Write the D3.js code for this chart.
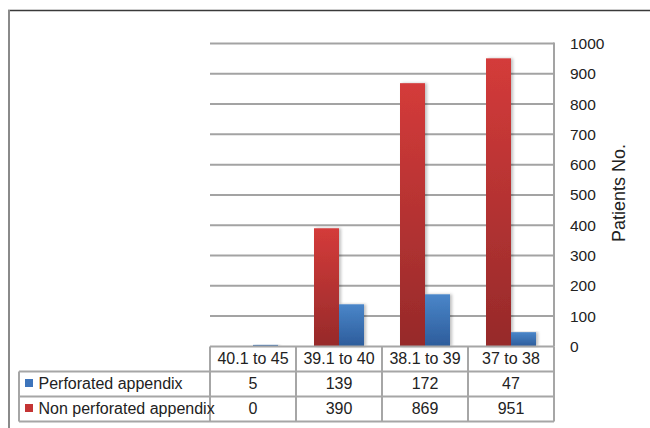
<!DOCTYPE html>
<html>
<head>
<meta charset="utf-8">
<script src="https://cdn.jsdelivr.net/npm/d3@7"></script>
<style>
  body { margin: 0; background: #fff; }
  svg { display: block; font-family: "Liberation Sans", Arial, sans-serif; }
</style>
</head>
<body>
<svg id="chart" width="650" height="428"></svg>
<script>
const categories = ["40.1 to 45", "39.1 to 40", "38.1 to 39", "37 to 38"];
const perforated = [5, 139, 172, 47];
const nonPerforated = [0, 390, 869, 951];
const yTicks = [0, 100, 200, 300, 400, 500, 600, 700, 800, 900, 1000];
const seriesNames = ["Perforated appendix", "Non perforated appendix"];

const svg = d3.select("#chart");
const plotLeft = 210, plotRight = 554, plotTop = 43.5, plotBase = 346.4;
const legendLeft = 19;
const rows = [346.5, 371.5, 396.5, 421.5];
const ink = "#222";

const x = d3.scaleBand().domain(categories).range([plotLeft, plotRight]).padding(0);
const inner = d3.scaleBand().domain(["non", "perf"]).range([0, x.bandwidth()]).paddingInner(0).paddingOuter(0.72);
const y = d3.scaleLinear().domain([0, 1000]).range([plotBase, plotTop]);

const defs = svg.append("defs");
function grad(id, c1, c2) {
  const g = defs.append("linearGradient").attr("id", id).attr("x1", 0).attr("y1", 0).attr("x2", 0).attr("y2", 1);
  g.append("stop").attr("offset", "0%").attr("stop-color", c1);
  g.append("stop").attr("offset", "100%").attr("stop-color", c2);
}
grad("gRed", "#d43b3a", "#962a2a");
grad("gBlue", "#4a86c9", "#2d5c9b");
const shadow = defs.append("filter").attr("id", "shadow").attr("x", "-20%").attr("y", "-5%").attr("width", "150%").attr("height", "110%");
shadow.append("feDropShadow").attr("dx", 2).attr("dy", 0).attr("stdDeviation", 1.5).attr("flood-color", "#000").attr("flood-opacity", 0.25);

// outer frame
svg.append("line").attr("x1", 8).attr("x2", 650).attr("y1", 10.5).attr("y2", 10.5).attr("stroke", "#3a3a3a").attr("stroke-width", 1.5);
svg.append("line").attr("x1", 9).attr("x2", 9).attr("y1", 10).attr("y2", 428).attr("stroke", "#8a8a8a").attr("stroke-width", 2);

// gridlines
svg.append("g").selectAll("line").data(yTicks.slice(1)).join("line")
  .attr("x1", plotLeft).attr("x2", plotRight)
  .attr("y1", (d) => y(d)).attr("y2", (d) => y(d))
  .attr("stroke", "#a3a3a3").attr("stroke-width", 2);

// right axis line
svg.append("line").attr("x1", plotRight).attr("x2", plotRight).attr("y1", y(1000) - 1).attr("y2", plotBase)
  .attr("stroke", "#a3a3a3").attr("stroke-width", 2);

// bars
const bars = svg.append("g");
categories.forEach((c, i) => {
  bars.append("rect")
    .attr("x", x(c) + inner("non")).attr("width", inner.bandwidth())
    .attr("y", y(nonPerforated[i])).attr("height", plotBase - y(nonPerforated[i]))
    .attr("fill", "url(#gRed)").attr("filter", "url(#shadow)");
  bars.append("rect")
    .attr("x", x(c) + inner("perf")).attr("width", inner.bandwidth())
    .attr("y", y(perforated[i])).attr("height", plotBase - y(perforated[i]))
    .attr("fill", "url(#gBlue)").attr("filter", "url(#shadow)");
});

// y axis labels
svg.append("g").selectAll("text").data(yTicks).join("text")
  .attr("x", 570).attr("y", (d) => y(d) + 5.5)
  .attr("font-size", 15.5).attr("fill", ink)
  .text((d) => d);

svg.append("text")
  .attr("transform", `translate(625,${(plotTop + plotBase) / 2 - 2}) rotate(-90)`)
  .attr("text-anchor", "middle").attr("font-size", 18).attr("fill", ink)
  .text("Patients No.");

// data table
const tbl = svg.append("g").attr("stroke", "#a6a6a6").attr("stroke-width", 2);
tbl.append("line").attr("x1", plotLeft).attr("x2", plotRight).attr("y1", rows[0]).attr("y2", rows[0]);
[rows[1], rows[2], rows[3]].forEach((ry) => {
  tbl.append("line").attr("x1", legendLeft).attr("x2", plotRight).attr("y1", ry).attr("y2", ry);
});
tbl.append("line").attr("x1", legendLeft).attr("x2", legendLeft).attr("y1", rows[1]).attr("y2", rows[3]);
categories.forEach((c) => {
  tbl.append("line").attr("x1", x(c)).attr("x2", x(c)).attr("y1", rows[0]).attr("y2", rows[3]);
});
tbl.append("line").attr("x1", plotRight).attr("x2", plotRight).attr("y1", rows[0]).attr("y2", rows[3]);

const txt = svg.append("g").attr("font-size", 16).attr("fill", ink).attr("text-anchor", "middle");
categories.forEach((c, i) => {
  const cx = x(c) + x.bandwidth() / 2;
  txt.append("text").attr("x", cx).attr("y", rows[0] + 17.5).text(c);
  txt.append("text").attr("x", cx).attr("y", rows[1] + 17.5).text(perforated[i]);
  txt.append("text").attr("x", cx).attr("y", rows[2] + 17.5).text(nonPerforated[i]);
});

const swatchFill = ["#3d74bb", "#c43434"];
seriesNames.forEach((name, i) => {
  const ry = rows[i + 1];
  svg.append("rect").attr("x", 25).attr("y", ry + 7.5).attr("width", 8).attr("height", 8).attr("fill", swatchFill[i]);
  svg.append("text").attr("x", 38.5).attr("y", ry + 17.5).attr("font-size", 16).attr("fill", ink).text(name);
});
</script>
</body>
</html>
